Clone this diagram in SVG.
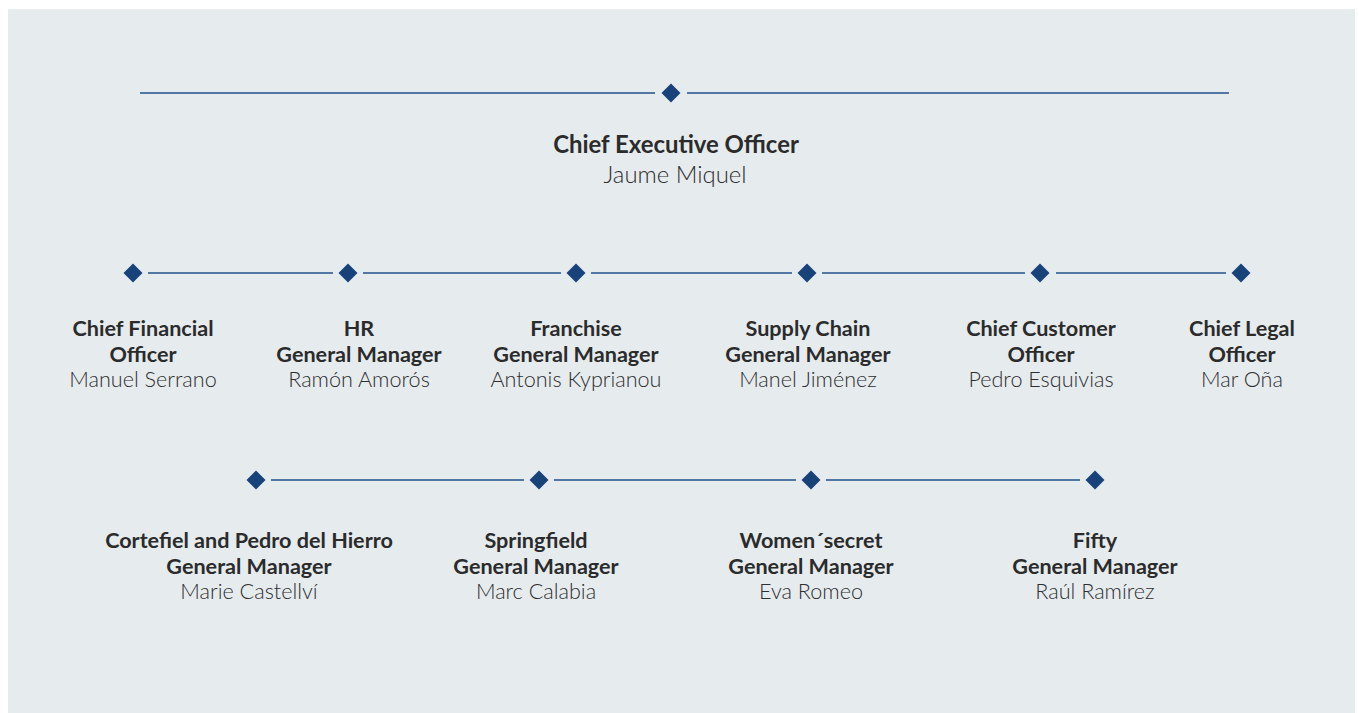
<svg xmlns="http://www.w3.org/2000/svg" width="1359" height="713" viewBox="0 0 1359 713">
<defs>
<style>
.ln{stroke:#22508a;stroke-width:1.5;fill:none}
.dm{fill:#17427a}
.t{font-family:Lato,"Noto Sans","Liberation Sans",sans-serif;font-size:21.6px;fill:#2b2b2b;text-anchor:middle}
.b{font-weight:700}
.n{font-weight:300;fill:#2e2e2e}
.big{font-size:23.9px}
</style>
<path id="d" d="M0,-9.5 L9.5,0 L0,9.5 L-9.5,0 Z"/>
</defs>
<rect x="0" y="0" width="1359" height="713" fill="#ffffff"/>
<rect x="8" y="9" width="1347" height="704" fill="#e6ebee"/>
<g id="connectors">
<line class="ln" x1="140" y1="93" x2="655" y2="93"/>
<line class="ln" x1="687" y1="93" x2="1229" y2="93"/>
<line class="ln" x1="148" y1="273" x2="333" y2="273"/>
<line class="ln" x1="363" y1="273" x2="561" y2="273"/>
<line class="ln" x1="591" y1="273" x2="792" y2="273"/>
<line class="ln" x1="822" y1="273" x2="1025" y2="273"/>
<line class="ln" x1="1056" y1="273" x2="1226" y2="273"/>
<line class="ln" x1="271" y1="480" x2="524" y2="480"/>
<line class="ln" x1="554" y1="480" x2="796" y2="480"/>
<line class="ln" x1="826" y1="480" x2="1080" y2="480"/>
</g>
<g id="ceo">
<use href="#d" class="dm" x="671" y="93"/>
<text class="t b big" x="676" y="153">Chief Executive Officer</text>
<text class="t n big" x="675" y="183">Jaume Miquel</text>
</g>
<g id="cfo">
<use href="#d" class="dm" x="133" y="273"/>
<text class="t b" x="143" y="336">Chief Financial</text>
<text class="t b" x="143" y="362">Officer</text>
<text class="t n" x="143" y="387">Manuel Serrano</text>
</g>
<g id="hr">
<use href="#d" class="dm" x="348" y="273"/>
<text class="t b" x="359" y="336">HR</text>
<text class="t b" x="359" y="362">General Manager</text>
<text class="t n" x="359" y="387">Ramón Amorós</text>
</g>
<g id="franchise">
<use href="#d" class="dm" x="576" y="273"/>
<text class="t b" x="576" y="336">Franchise</text>
<text class="t b" x="576" y="362">General Manager</text>
<text class="t n" x="576" y="387">Antonis Kyprianou</text>
</g>
<g id="supply">
<use href="#d" class="dm" x="807" y="273"/>
<text class="t b" x="808" y="336">Supply Chain</text>
<text class="t b" x="808" y="362">General Manager</text>
<text class="t n" x="808" y="387">Manel Jiménez</text>
</g>
<g id="cco">
<use href="#d" class="dm" x="1040" y="273"/>
<text class="t b" x="1041" y="336">Chief Customer</text>
<text class="t b" x="1041" y="362">Officer</text>
<text class="t n" x="1041" y="387">Pedro Esquivias</text>
</g>
<g id="clo">
<use href="#d" class="dm" x="1241" y="273"/>
<text class="t b" x="1242" y="336">Chief Legal</text>
<text class="t b" x="1242" y="362">Officer</text>
<text class="t n" x="1242" y="387">Mar Oña</text>
</g>
<g id="cortefiel">
<use href="#d" class="dm" x="256" y="480"/>
<text class="t b" x="249" y="548">Cortefiel and Pedro del Hierro</text>
<text class="t b" x="249" y="574">General Manager</text>
<text class="t n" x="249" y="599">Marie Castellví</text>
</g>
<g id="springfield">
<use href="#d" class="dm" x="539" y="480"/>
<text class="t b" x="536" y="548">Springfield</text>
<text class="t b" x="536" y="574">General Manager</text>
<text class="t n" x="536" y="599">Marc Calabia</text>
</g>
<g id="womensecret">
<use href="#d" class="dm" x="811" y="480"/>
<text class="t b" x="811" y="548">Women´secret</text>
<text class="t b" x="811" y="574">General Manager</text>
<text class="t n" x="811" y="599">Eva Romeo</text>
</g>
<g id="fifty">
<use href="#d" class="dm" x="1095" y="480"/>
<text class="t b" x="1095" y="548">Fifty</text>
<text class="t b" x="1095" y="574">General Manager</text>
<text class="t n" x="1095" y="599">Raúl Ramírez</text>
</g>
</svg>
